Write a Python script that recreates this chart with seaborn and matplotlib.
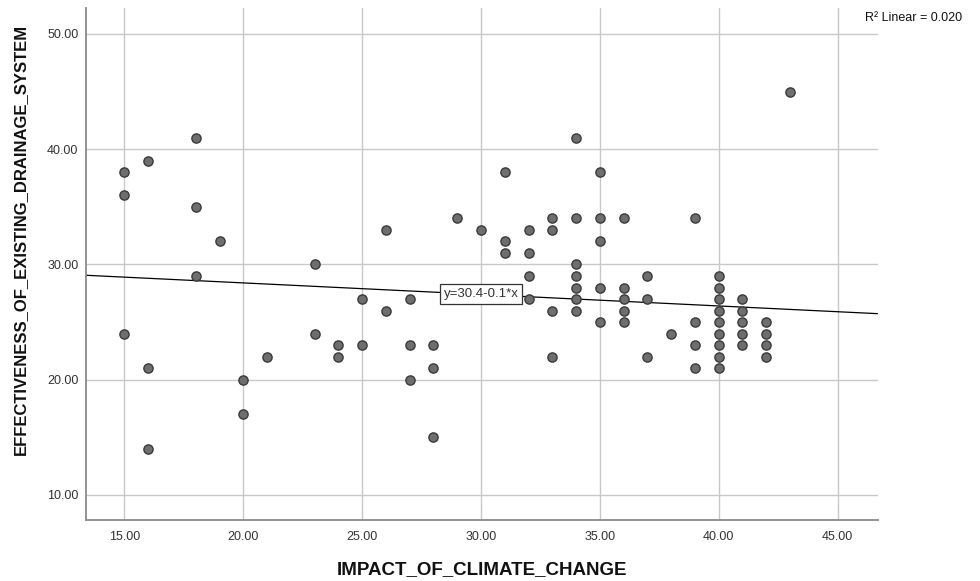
import matplotlib
matplotlib.use("Agg")
import matplotlib.pyplot as plt
import seaborn as sns
import pandas as pd

# Data (one entry per visible point)
impact = [15, 15, 15, 16, 16, 16, 18, 18, 18, 19, 20, 20, 21, 23, 23,
          24, 24, 25, 25, 26, 26, 27, 27, 27, 28, 28, 28, 29, 30,
          31, 31, 31, 32, 32, 32, 32, 33, 33, 33, 33,
          34, 34, 34, 34, 34, 34, 34, 35, 35, 35, 35, 35,
          36, 36, 36, 36, 36, 37, 37, 37, 38, 39, 39, 39, 39,
          40, 40, 40, 40, 40, 40, 40, 40, 40, 41, 41, 41, 41, 41,
          42, 42, 42, 42, 43]
effectiveness = [38, 36, 24, 39, 21, 14, 41, 35, 29, 32, 20, 17, 22, 30, 24,
                 23, 22, 27, 23, 33, 26, 27, 23, 20, 23, 21, 15, 34, 33,
                 38, 32, 31, 33, 31, 29, 27, 34, 33, 26, 22,
                 41, 34, 30, 29, 28, 27, 26, 38, 34, 32, 28, 25,
                 34, 28, 27, 26, 25, 29, 27, 22, 24, 34, 25, 23, 21,
                 29, 28, 27, 26, 25, 24, 23, 22, 21, 27, 26, 25, 24, 23,
                 25, 24, 23, 22, 45]

# Fit line as reported on the chart
fit_intercept = 30.4
fit_slope = -0.1
r_squared = 0.020

x_ticks = [15, 20, 25, 30, 35, 40, 45]
y_ticks = [10, 20, 30, 40, 50]

df = pd.DataFrame({"IMPACT_OF_CLIMATE_CHANGE": impact,
                   "EFFECTIVENESS_OF_EXISTING_DRAINAGE_SYSTEM": effectiveness})

sns.set_style("white")
plt.rcParams["font.family"] = ["Liberation Sans", "DejaVu Sans"]

fig = plt.figure(figsize=(9.8, 5.81), dpi=100)
ax = fig.add_axes([85.5 / 980, 1 - 520 / 581, 792 / 980, 512 / 581])

ax.set_xlim(13.36, 46.68)
ax.set_ylim(7.83, 52.25)
ax.set_xticks(x_ticks)
ax.set_yticks(y_ticks)
ax.set_xticklabels([f"{v:.2f}" for v in x_ticks])
ax.set_yticklabels([f"{v:.2f}" for v in y_ticks])
ax.grid(True, color="#c8c8c8", linewidth=1)
ax.set_axisbelow(True)

sns.scatterplot(data=df, x="IMPACT_OF_CLIMATE_CHANGE",
                y="EFFECTIVENESS_OF_EXISTING_DRAINAGE_SYSTEM",
                ax=ax, s=44, color="#6e6e6e", edgecolor="#3a3a3a",
                linewidth=1.0, zorder=3)

ax.axline((0, fit_intercept), slope=fit_slope, color="black", linewidth=0.9, zorder=2)

# equation label sitting on the line at x=30
eq_x = 30
ax.text(eq_x, fit_intercept + fit_slope * eq_x, f"y={fit_intercept}{fit_slope}*x",
        ha="center", va="center", fontsize=9.5, color="#333333", zorder=4,
        bbox=dict(boxstyle="square,pad=0.3", facecolor="white",
                  edgecolor="#333333", linewidth=0.9))

for side in ["top", "right"]:
    ax.spines[side].set_visible(False)
for side in ["left", "bottom"]:
    ax.spines[side].set_color("#8a8a8a")
    ax.spines[side].set_linewidth(1.3)

ax.tick_params(axis="both", length=0, labelsize=9, colors="#333333")
ax.tick_params(axis="x", pad=8)
ax.tick_params(axis="y", pad=5)

ax.set_xlabel("IMPACT_OF_CLIMATE_CHANGE", fontsize=13.5, fontweight="bold",
              color="#111111", va="center")
ax.set_ylabel("EFFECTIVENESS_OF_EXISTING_DRAINAGE_SYSTEM", fontsize=12,
              fontweight="bold", color="#111111", va="center")
ax.xaxis.set_label_coords(0.5, -50 / 512)
ax.yaxis.set_label_coords(-65.5 / 792, 0.547)

fig.text(865 / 980, 1 - 18 / 581, f"R\u00b2 Linear = {r_squared:.3f}",
         fontsize=9, ha="left", va="center", color="#111111")

fig.savefig("out.png", dpi=100)
